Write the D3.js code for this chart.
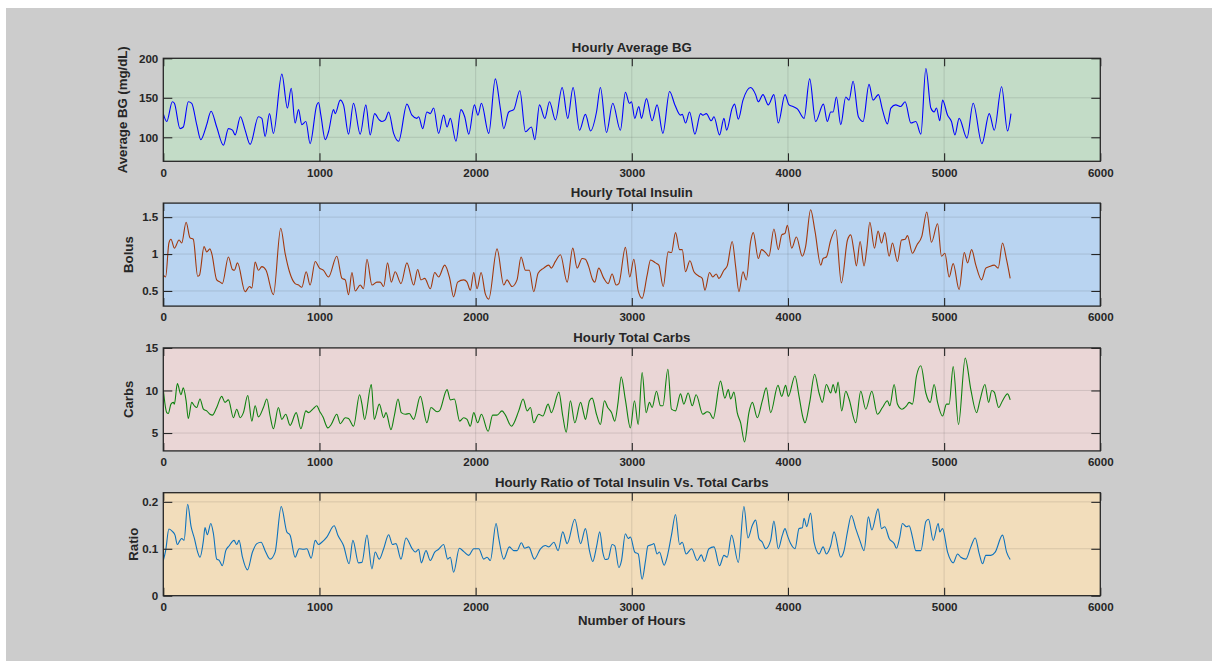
<!DOCTYPE html>
<html>
<head>
<meta charset="utf-8">
<script src="https://cdn.jsdelivr.net/npm/d3@7"></script>
<style>
  body { margin: 0; background: #fff; }
  text { font-family: "Liberation Sans", Arial, sans-serif; font-weight: bold; fill: #262626; }
</style>
</head>
<body>
<svg id="chart" width="1212" height="661"></svg>
<script>
// hourly series as [hour, value] pairs
var bgSeries = [[0,130],[22,120],[58,145],[71,143],[107,111],[128,113],[160,145],[182,143],[214,116],[240,97],[267,109],[278,116],[306,133],[342,113],[385,90],[417,111],[443,109],[460,103],[494,126],[524,109],[556,91],[609,126],[631,124],[652,101],[680,130],[705,105],[759,180],[795,137],[819,162],[844,118],[866,135],[887,116],[913,120],[940,92],[983,141],[994,144],[1009,128],[1037,97],[1058,107],[1090,135],[1101,130],[1133,147],[1154,141],[1186,104],[1218,143],[1261,104],[1297,141],[1325,103],[1353,130],[1383,122],[1400,120],[1421,122],[1443,132],[1475,105],[1507,95],[1560,142],[1592,128],[1624,124],[1635,126],[1661,111],[1688,132],[1710,130],[1731,137],[1763,105],[1795,128],[1817,113],[1838,124],[1874,95],[1906,135],[1930,126],[1956,104],[1992,141],[2015,128],[2037,143],[2084,105],[2126,174],[2158,137],[2180,111],[2212,132],[2244,135],[2283,159],[2319,107],[2357,113],[2379,97],[2409,141],[2443,124],[2473,145],[2511,122],[2554,163],[2590,124],[2624,163],[2665,109],[2703,129],[2736,108],[2774,132],[2799,163],[2838,106],[2878,143],[2927,109],[2959,157],[2985,143],[2998,145],[3019,124],[3045,139],[3062,124],[3094,149],[3130,121],[3162,141],[3199,105],[3242,158],[3276,141],[3312,128],[3323,129],[3344,118],[3370,132],[3404,104],[3440,130],[3455,128],[3477,130],[3509,121],[3526,126],[3562,103],[3590,124],[3607,109],[3643,137],[3658,142],[3682,123],[3712,147],[3761,163],[3793,154],[3810,145],[3840,154],[3874,141],[3910,154],[3938,118],[3981,154],[4007,141],[4032,139],[4060,136],[4103,124],[4139,174],[4177,120],[4227,142],[4252,120],[4274,132],[4289,132],[4310,151],[4338,116],[4370,151],[4391,147],[4417,171],[4451,126],[4481,120],[4519,167],[4545,147],[4579,154],[4605,135],[4637,117],[4659,137],[4690,141],[4722,139],[4750,145],[4787,118],[4819,120],[4851,104],[4883,187],[4915,137],[4936,132],[4951,137],[4972,121],[4990,147],[5022,128],[5047,120],[5069,103],[5096,124],[5146,99],[5186,143],[5242,92],[5289,130],[5321,109],[5368,164],[5406,108],[5428,130]];

var insulinSeries = [[0,0.72],[15,0.69],[36,1.15],[49,1.20],[71,1.08],[101,1.19],[118,1.15],[146,1.43],[171,1.22],[192,1.20],[220,0.70],[231,0.71],[261,1.10],[278,1.03],[299,1.07],[310,1.01],[342,0.65],[364,0.62],[378,0.60],[417,0.96],[443,0.79],[455,0.78],[475,0.88],[524,0.49],[552,0.56],[567,0.54],[588,0.89],[609,0.78],[631,0.83],[658,0.78],[705,0.45],[752,1.35],[780,1.01],[808,0.76],[844,0.60],[866,0.58],[887,0.55],[915,0.76],[940,0.58],[973,0.90],[1000,0.81],[1026,0.78],[1058,0.69],[1111,0.97],[1144,0.67],[1165,0.65],[1186,0.45],[1208,0.75],[1229,0.50],[1261,0.58],[1282,0.53],[1304,0.93],[1336,0.58],[1368,0.62],[1389,0.62],[1411,0.56],[1436,0.88],[1460,0.62],[1485,0.76],[1522,0.60],[1560,0.88],[1603,0.58],[1629,0.79],[1650,0.65],[1674,0.67],[1710,0.53],[1738,0.75],[1763,0.69],[1802,0.85],[1834,0.67],[1859,0.42],[1885,0.62],[1924,0.65],[1945,0.62],[1966,0.51],[1988,0.75],[2009,0.53],[2035,0.75],[2062,0.46],[2084,0.39],[2137,1.07],[2180,0.58],[2201,0.65],[2233,0.56],[2265,0.65],[2291,0.96],[2319,0.78],[2344,0.78],[2372,0.49],[2400,0.74],[2436,0.81],[2468,0.85],[2485,0.81],[2511,0.90],[2543,0.99],[2586,0.62],[2622,1.08],[2650,0.81],[2682,0.94],[2703,0.93],[2724,0.83],[2750,0.65],[2763,0.62],[2788,0.81],[2821,0.67],[2848,0.60],[2874,0.73],[2900,0.58],[2917,0.60],[2959,1.09],[2987,0.69],[3013,0.93],[3041,0.50],[3066,0.40],[3098,0.71],[3120,0.92],[3152,0.88],[3173,0.85],[3201,0.56],[3233,1.03],[3254,1.02],[3280,1.29],[3306,1.06],[3323,1.06],[3344,0.76],[3372,0.91],[3398,0.76],[3430,0.70],[3451,0.67],[3468,0.51],[3498,0.75],[3519,0.69],[3541,0.73],[3558,0.67],[3590,0.78],[3611,0.84],[3643,1.17],[3665,0.83],[3686,0.49],[3712,0.76],[3733,0.65],[3761,1.17],[3778,1.29],[3810,0.94],[3831,1.06],[3857,1.02],[3878,0.97],[3910,1.34],[3938,1.06],[3960,1.26],[3981,1.28],[3996,1.39],[4024,1.08],[4054,1.23],[4092,0.97],[4113,1.10],[4145,1.60],[4173,1.31],[4210,0.85],[4225,0.94],[4246,0.96],[4274,1.19],[4306,1.33],[4342,0.61],[4381,1.19],[4402,1.26],[4423,1.03],[4438,0.84],[4462,1.17],[4487,0.84],[4505,1.08],[4524,1.43],[4554,1.08],[4577,1.31],[4599,1.15],[4620,1.29],[4648,0.97],[4669,1.15],[4701,0.90],[4727,1.19],[4750,1.20],[4765,1.25],[4797,1.01],[4825,1.12],[4857,1.24],[4889,1.57],[4919,1.16],[4958,1.41],[4983,0.97],[5005,1.01],[5032,0.69],[5058,0.87],[5096,0.52],[5129,1.02],[5150,0.88],[5176,1.06],[5203,0.85],[5240,0.65],[5267,0.81],[5289,0.83],[5321,0.85],[5346,0.81],[5374,1.15],[5400,0.92],[5423,0.67]];

var carbsSeries = [[0,10.1],[22,7.4],[32,7.3],[49,8.4],[64,8.6],[71,8.4],[90,10.8],[113,9.5],[128,10.3],[146,8.8],[160,6.7],[182,8.6],[199,8.2],[214,8.0],[235,9.0],[257,7.8],[278,7.6],[299,7.2],[314,7.1],[342,8.0],[374,9.3],[395,8.6],[417,8.9],[449,6.8],[470,7.8],[492,6.8],[513,7.4],[541,9.4],[567,6.4],[588,8.2],[609,6.9],[641,8.0],[663,9.0],[684,7.0],[705,5.5],[737,8.0],[759,6.6],[784,7.2],[812,5.9],[851,7.4],[881,5.5],[913,7.6],[930,7.4],[962,7.9],[983,8.2],[1000,7.6],[1022,6.9],[1054,5.6],[1075,6.0],[1111,7.2],[1133,6.1],[1165,6.8],[1186,6.7],[1218,5.8],[1257,9.5],[1272,8.4],[1289,6.6],[1332,10.7],[1351,6.6],[1383,8.4],[1411,6.8],[1426,7.4],[1458,5.4],[1479,7.0],[1503,9.0],[1524,7.4],[1550,7.2],[1575,7.3],[1603,6.6],[1646,9.3],[1688,6.2],[1714,8.0],[1753,7.5],[1768,7.6],[1817,10.1],[1838,8.9],[1864,9.0],[1898,6.4],[1924,6.8],[1945,6.6],[1966,5.8],[1988,7.4],[2013,6.2],[2037,7.2],[2080,5.2],[2109,7.1],[2137,7.1],[2169,7.6],[2191,7.1],[2229,5.8],[2276,7.6],[2304,9.0],[2330,7.6],[2351,8.0],[2372,6.2],[2404,7.2],[2430,7.0],[2464,8.4],[2485,7.4],[2533,9.8],[2558,7.0],[2580,5.1],[2607,8.8],[2635,6.2],[2672,8.6],[2693,7.2],[2703,6.6],[2729,8.8],[2746,9.1],[2774,7.2],[2799,6.0],[2825,8.8],[2846,8.0],[2870,7.4],[2891,6.4],[2912,8.6],[2932,11.6],[2959,8.9],[2991,5.6],[3017,8.8],[3041,6.0],[3066,12.1],[3092,7.4],[3113,8.6],[3130,8.0],[3158,9.9],[3184,8.2],[3199,8.2],[3231,12.5],[3254,7.8],[3280,7.6],[3312,9.6],[3333,8.4],[3361,9.7],[3387,8.2],[3412,9.5],[3455,7.2],[3483,7.5],[3498,7.4],[3521,6.7],[3568,11.1],[3596,9.1],[3618,10.1],[3633,9.0],[3654,9.8],[3675,7.4],[3697,6.2],[3722,3.95],[3750,7.4],[3772,8.6],[3804,6.8],[3836,8.8],[3861,10.3],[3889,7.4],[3936,10.6],[3960,9.3],[3985,10.6],[4002,9.3],[4045,11.7],[4071,9.3],[4096,6.8],[4109,6.2],[4139,8.6],[4171,11.9],[4199,9.7],[4220,8.6],[4246,10.7],[4274,9.7],[4289,10.7],[4306,9.7],[4321,11.0],[4344,7.6],[4370,9.9],[4391,9.0],[4434,6.2],[4466,9.9],[4498,7.8],[4537,9.9],[4573,7.2],[4605,8.0],[4637,8.8],[4652,8.2],[4680,10.7],[4701,8.4],[4729,7.8],[4759,8.2],[4776,8.6],[4797,8.4],[4823,11.7],[4851,12.9],[4883,9.7],[4911,8.6],[4936,10.7],[4958,8.6],[4990,7.0],[5015,8.4],[5032,8.4],[5058,12.8],[5092,6.0],[5135,13.8],[5171,10.1],[5208,7.4],[5229,8.8],[5261,10.7],[5285,8.6],[5305,10.0],[5321,9.8],[5349,8.0],[5374,8.8],[5406,9.6],[5423,8.9]];

var ratioSeries = [[0,0.075],[15,0.096],[36,0.142],[58,0.137],[75,0.129],[90,0.109],[107,0.118],[118,0.122],[133,0.118],[156,0.195],[178,0.147],[199,0.122],[220,0.093],[235,0.082],[257,0.118],[267,0.145],[282,0.130],[304,0.154],[321,0.132],[342,0.078],[359,0.075],[378,0.064],[400,0.096],[421,0.106],[453,0.118],[470,0.109],[485,0.118],[507,0.082],[539,0.055],[571,0.093],[599,0.111],[626,0.114],[652,0.096],[684,0.078],[716,0.093],[755,0.190],[791,0.136],[812,0.129],[844,0.082],[870,0.100],[898,0.099],[919,0.100],[947,0.080],[973,0.118],[994,0.109],[1015,0.114],[1047,0.125],[1094,0.149],[1118,0.129],[1154,0.107],[1190,0.068],[1214,0.118],[1250,0.070],[1272,0.071],[1304,0.129],[1336,0.057],[1357,0.093],[1383,0.078],[1411,0.100],[1443,0.130],[1468,0.109],[1490,0.111],[1522,0.078],[1554,0.123],[1592,0.101],[1614,0.093],[1635,0.099],[1652,0.070],[1682,0.096],[1710,0.075],[1738,0.093],[1763,0.099],[1795,0.109],[1821,0.078],[1838,0.082],[1859,0.050],[1896,0.101],[1924,0.094],[1956,0.086],[1988,0.100],[2020,0.100],[2052,0.078],[2073,0.082],[2094,0.075],[2131,0.154],[2148,0.122],[2180,0.078],[2216,0.104],[2244,0.096],[2265,0.096],[2293,0.113],[2314,0.101],[2340,0.104],[2376,0.078],[2415,0.100],[2447,0.107],[2469,0.104],[2501,0.114],[2528,0.096],[2558,0.136],[2586,0.111],[2635,0.163],[2672,0.111],[2703,0.143],[2729,0.096],[2750,0.073],[2774,0.104],[2795,0.136],[2814,0.093],[2831,0.077],[2848,0.078],[2874,0.109],[2891,0.106],[2917,0.060],[2934,0.075],[2959,0.132],[2977,0.122],[2991,0.125],[3019,0.093],[3041,0.089],[3066,0.035],[3088,0.075],[3103,0.106],[3130,0.109],[3141,0.111],[3162,0.089],[3177,0.093],[3207,0.065],[3222,0.077],[3254,0.129],[3280,0.173],[3306,0.109],[3323,0.114],[3348,0.089],[3383,0.100],[3419,0.075],[3445,0.087],[3464,0.073],[3494,0.100],[3526,0.104],[3562,0.064],[3590,0.086],[3611,0.082],[3639,0.129],[3682,0.071],[3718,0.190],[3744,0.123],[3772,0.150],[3793,0.161],[3814,0.122],[3836,0.114],[3857,0.100],[3889,0.118],[3910,0.159],[3938,0.100],[3964,0.129],[3981,0.143],[3996,0.129],[4017,0.111],[4045,0.100],[4071,0.143],[4092,0.145],[4103,0.165],[4120,0.147],[4145,0.176],[4167,0.114],[4199,0.089],[4225,0.104],[4246,0.089],[4274,0.107],[4295,0.136],[4338,0.082],[4359,0.096],[4381,0.136],[4406,0.171],[4434,0.143],[4460,0.118],[4487,0.096],[4515,0.168],[4537,0.140],[4577,0.185],[4599,0.143],[4620,0.147],[4648,0.122],[4680,0.111],[4695,0.101],[4716,0.125],[4733,0.154],[4759,0.147],[4776,0.149],[4797,0.125],[4819,0.096],[4851,0.096],[4883,0.158],[4900,0.163],[4930,0.118],[4962,0.154],[4972,0.136],[4990,0.143],[5022,0.093],[5043,0.075],[5058,0.070],[5086,0.089],[5107,0.082],[5139,0.078],[5171,0.104],[5199,0.123],[5225,0.089],[5246,0.068],[5267,0.086],[5299,0.086],[5327,0.093],[5374,0.129],[5400,0.093],[5423,0.077]];

var xTicks = [0, 1000, 2000, 3000, 4000, 5000, 6000];
var titles = ["Hourly Average BG", "Hourly Total Insulin", "Hourly Total Carbs", "Hourly Ratio of Total Insulin Vs. Total Carbs"];
var yLabels = ["Average BG (mg/dL)", "Bolus", "Carbs", "Ratio"];
var yTicks = [[100, 150, 200], [0.5, 1, 1.5], [5, 10, 15], [0, 0.1, 0.2]];
var xLabel = "Number of Hours";

var panels = [
  { data: bgSeries,      domain: [69.6, 200],  fill: "#c3dcc7", stroke: "#0000ff", labelX: 122 },
  { data: insulinSeries, domain: [0.295, 1.69], fill: "#b9d4f1", stroke: "#a2380c", labelX: 128 },
  { data: carbsSeries,   domain: [2.9, 15],    fill: "#ead6d6", stroke: "#0f820f", labelX: 128 },
  { data: ratioSeries,   domain: [0, 0.2195],  fill: "#f2ddbb", stroke: "#0d72bd", labelX: 133 }
];

var svg = d3.select("#chart");
svg.append("rect").attr("x", 6).attr("y", 8).attr("width", 1206).attr("height", 653).attr("fill", "#cccccc");

var left = 163.3, right = 1100.3, plotH = 103;
var x = d3.scaleLinear().domain([0, 6000]).range([left, right]);

panels.forEach(function(p, i) {
  var top = 58.3 + i * 144.8, bottom = top + plotH;
  var y = d3.scaleLinear().domain(p.domain).range([bottom, top]);
  var g = svg.append("g");

  g.append("rect")
    .attr("x", left).attr("y", top)
    .attr("width", right - left).attr("height", plotH)
    .attr("fill", p.fill);

  // grid
  g.append("g").selectAll("line")
    .data(xTicks.slice(1, -1))
    .enter().append("line")
    .attr("x1", function(d) { return x(d); }).attr("x2", function(d) { return x(d); })
    .attr("y1", top).attr("y2", bottom)
    .attr("stroke", "#262626").attr("stroke-opacity", 0.13);
  g.append("g").selectAll("line")
    .data(yTicks[i].filter(function(d) { return y(d) > top + 1 && y(d) < bottom - 1; }))
    .enter().append("line")
    .attr("x1", left).attr("x2", right)
    .attr("y1", function(d) { return y(d); }).attr("y2", function(d) { return y(d); })
    .attr("stroke", "#262626").attr("stroke-opacity", 0.13);

  g.append("clipPath").attr("id", "clip" + i)
    .append("rect").attr("x", left).attr("y", top).attr("width", right - left).attr("height", plotH);

  var line = d3.line()
    .x(function(d) { return x(d[0]); })
    .y(function(d) { return y(d[1]); })
    .curve(d3.curveMonotoneX);

  g.append("path")
    .datum(p.data)
    .attr("clip-path", "url(#clip" + i + ")")
    .attr("d", line)
    .attr("fill", "none")
    .attr("stroke", p.stroke)
    .attr("stroke-width", 1.1);

  // axes, MATLAB style ticks pointing inward
  g.append("g").attr("transform", "translate(0," + bottom + ")")
    .call(d3.axisBottom(x).tickValues(xTicks).tickSizeInner(-8).tickSizeOuter(0).tickPadding(7).tickFormat(d3.format("d")));
  g.append("g").attr("transform", "translate(0," + top + ")")
    .call(d3.axisTop(x).tickValues(xTicks).tickSizeInner(-8).tickSizeOuter(0).tickFormat(""));
  g.append("g").attr("transform", "translate(" + left + ",0)")
    .call(d3.axisLeft(y).tickValues(yTicks[i]).tickSizeInner(-9).tickSizeOuter(0).tickPadding(5).tickFormat(d3.format("")));
  g.append("g").attr("transform", "translate(" + right + ",0)")
    .call(d3.axisRight(y).tickValues(yTicks[i]).tickSizeInner(-9).tickSizeOuter(0).tickFormat(""));

  g.selectAll(".domain").remove();
  g.selectAll(".tick line").attr("stroke", "#262626").attr("stroke-width", 1.1);
  g.selectAll(".tick text").attr("font-size", 11.6).attr("fill", "#262626")
    .style("font-family", "'Liberation Sans', Arial, sans-serif").style("font-weight", "bold");

  g.append("rect")
    .attr("x", left).attr("y", top)
    .attr("width", right - left).attr("height", plotH)
    .attr("fill", "none").attr("stroke", "#262626").attr("stroke-width", 1.3);

  g.append("text")
    .attr("x", (left + right) / 2).attr("y", top - 6)
    .attr("text-anchor", "middle").attr("font-size", 13.2)
    .text(titles[i]);

  g.append("text")
    .attr("transform", "translate(" + p.labelX + "," + (top + plotH / 2) + ") rotate(-90)")
    .attr("text-anchor", "middle").attr("dy", "0.35em").attr("font-size", 13.2)
    .text(yLabels[i]);
});

svg.append("text")
  .attr("x", (left + right) / 2).attr("y", 625)
  .attr("text-anchor", "middle").attr("font-size", 13.2)
  .text(xLabel);
</script>
</body>
</html>
